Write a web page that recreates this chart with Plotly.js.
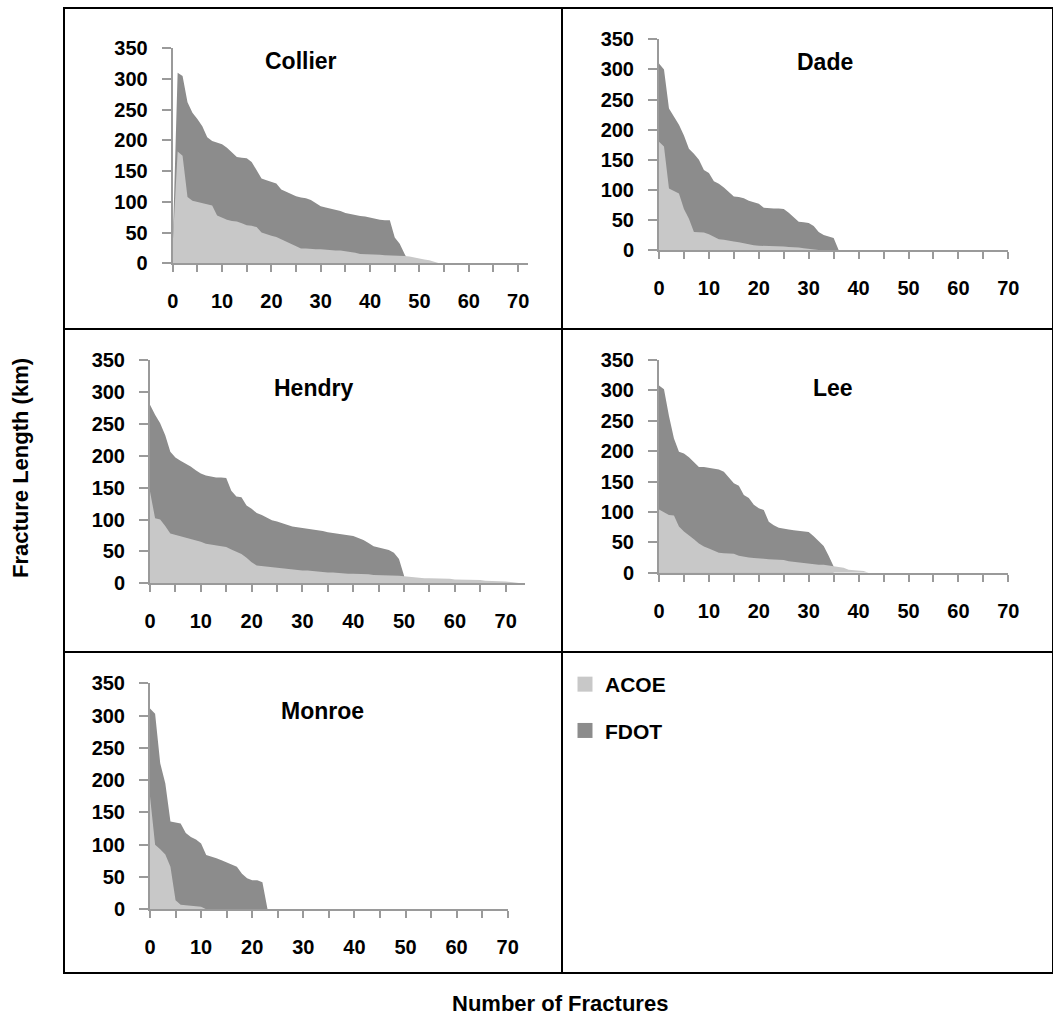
<!DOCTYPE html>
<html><head><meta charset="utf-8">
<script src="https://cdn.plot.ly/plotly-3.0.1.min.js"></script>
<style>html,body{margin:0;padding:0;background:#fff}#chart{width:1053px;height:1017px}</style>
</head><body><div id="chart"></div>
<script>
const counties = ["Collier", "Dade", "Hendry", "Lee", "Monroe"];
const seriesNames = ["ACOE", "FDOT"];
const xTickVals = [0, 10, 20, 30, 40, 50, 60, 70];
const yTickVals = [0, 50, 100, 150, 200, 250, 300, 350];

const collierFDOT = [30,310,305,262,245,235,223,205,199,196,194,188,180,173,172,171,165,152,138,135,133,130,120,116,112,109,107,106,103,98,93,91,89,88,85,82,80,78,77,76,74,72,71,70,70,42,32,15,0];
const collierACOE = [30,182,175,108,102,100,98,96,94,78,74,71,69,68,65,62,61,59,50,47,45,43,39,35,31,27,24,24,23,23,23,22,22,21,21,20,19,17,15,15,14,14,14,13,13,13,12,12,11,9,7,6,5,3,0];

const dadeFDOT = [310,300,235,222,208,190,168,160,150,133,128,114,110,104,96,89,88,86,82,80,77,70,69,69,69,68,62,54,47,46,45,40,30,25,23,20,0];
const dadeACOE = [180,172,102,98,94,68,52,30,30,29,26,22,18,17,15,14,13,11,10,8,7,7,7,6,6,6,5,5,4,3,2,1,0];

const hendryFDOT = [280,264,251,232,206,197,192,188,183,177,172,169,167,166,166,165,145,136,135,122,117,110,107,103,99,97,94,92,89,88,87,86,85,84,82,80,79,77,76,75,74,71,68,63,58,56,54,52,48,38,12];
const hendryACOE = [144,102,100,90,78,76,74,72,70,67,65,62,61,60,59,57,53,50,46,40,33,28,27,26,25,24,23,22,21,21,20,20,19,19,18,17,17,16,16,15,15,15,14,14,13,13,13,12,12,12,11,10,9,9,8,8,8,7,7,7,6,6,6,5,5,5,4,4,4,3,3,2,1,0];

const leeFDOT = [308,302,258,221,199,196,190,182,174,174,173,172,170,166,156,147,143,128,123,112,106,103,84,78,74,72,71,70,69,68,67,60,52,44,28,10];
const leeACOE = [104,100,95,94,76,68,62,55,48,43,40,36,33,32,31,31,28,26,25,24,24,23,22,22,21,21,19,18,16,15,15,14,13,13,12,11,9,8,5,4,3,3,0];

const monroeFDOT = [311,303,226,195,136,135,133,118,112,108,102,84,82,79,76,73,70,66,55,48,45,45,42,0];
const monroeACOE = [175,100,93,85,66,14,7,6,5,5,4,0];

const fdotByCounty = [collierFDOT, dadeFDOT, hendryFDOT, leeFDOT, monroeFDOT];
const acoeByCounty = [collierACOE, dadeACOE, hendryACOE, leeACOE, monroeACOE];

const COL_ACOE = '#c8c8c8';
const COL_FDOT = '#8c8c8c';
const AX = '#9a9a9a';
const FONT = 'Liberation Sans, Arial, sans-serif';
const W = 1053, H = 1017;

// panel pixel boxes: [x0, x1, yTop, yBottom, xMax]
const panels = [
  [172.7, 528.0, 48.3, 263.3, 72],
  [659.0, 1008.3, 39.3, 250.0, 70],
  [150.0, 525.0, 360.0, 583.3, 73.8],
  [659.0, 1008.3, 360.0, 572.7, 70],
  [150.0, 507.7, 683.3, 909.3, 70]
];
const titlePos = [[301, 61], [825, 62], [313, 388], [833, 388], [322, 711]];

const idx = arr => arr.map((_, i) => i);

const traces = [];
const layout = {
  width: W, height: H,
  margin: {l: 0, r: 0, t: 0, b: 0},
  paper_bgcolor: '#fff', plot_bgcolor: 'rgba(0,0,0,0)',
  font: {family: FONT, color: '#000', size: 20, weight: 'bold'},
  showlegend: true,
  legend: {x: 565 / W, y: 1 - 664 / H, xanchor: 'left', yanchor: 'top',
           font: {family: FONT, size: 21, color: '#000', weight: 'bold'}, bgcolor: 'rgba(0,0,0,0)',
           tracegroupgap: 16, itemwidth: 30, traceorder: 'grouped'},
  annotations: [], shapes: []
};

counties.forEach((c, k) => {
  const s = k === 0 ? '' : String(k + 1);
  const xa = 'x' + s, ya = 'y' + s;
  traces.push({
    type: 'scatter', x: idx(fdotByCounty[k]), y: fdotByCounty[k], xaxis: xa, yaxis: ya,
    mode: 'lines', line: {width: 0, color: COL_FDOT}, fill: 'tozeroy', fillcolor: COL_FDOT,
    name: seriesNames[1], legendgroup: 'FDOT', showlegend: false, hoverinfo: 'skip'
  });
  traces.push({
    type: 'scatter', x: idx(acoeByCounty[k]), y: acoeByCounty[k], xaxis: xa, yaxis: ya,
    mode: 'lines', line: {width: 0, color: COL_ACOE}, fill: 'tozeroy', fillcolor: COL_ACOE,
    name: seriesNames[0], legendgroup: 'ACOE', showlegend: false, hoverinfo: 'skip'
  });
  const p = panels[k];
  layout['xaxis' + s] = {
    domain: [p[0] / W, p[1] / W], anchor: ya, range: [0, p[4]],
    tickvals: xTickVals, ticktext: xTickVals.map(String),
    ticks: 'outside', ticklen: 7, tickwidth: 2, tickcolor: AX,
    minor: {dtick: 5, tick0: 0, ticks: 'outside', ticklen: 7, tickwidth: 2, tickcolor: AX},
    showline: true, linecolor: AX, linewidth: 2, showgrid: false, zeroline: false,
    tickfont: {family: FONT, size: 20, color: '#000', weight: 'bold'}, ticklabelstandoff: 12, fixedrange: true
  };
  layout['yaxis' + s] = {
    domain: [1 - p[3] / H, 1 - p[2] / H], anchor: xa, range: [0, 350],
    tickvals: yTickVals, ticktext: yTickVals.map(String),
    ticks: 'outside', ticklen: 9, tickwidth: 2, tickcolor: AX,
    showline: true, linecolor: AX, linewidth: 2, showgrid: false, zeroline: false,
    tickfont: {family: FONT, size: 20, color: '#000', weight: 'bold'}, ticklabelstandoff: 10, fixedrange: true
  };
  layout.annotations.push({
    text: c, xref: 'paper', yref: 'paper', x: titlePos[k][0] / W, y: 1 - titlePos[k][1] / H,
    xanchor: 'center', yanchor: 'middle', showarrow: false,
    font: {family: FONT, size: 23, color: '#000', weight: 'bold'}
  });
});

// legend entries (square swatches, as in the original legend)
traces.push({type: 'scatter', x: [null], y: [null], mode: 'markers', name: seriesNames[0],
  marker: {symbol: 'square', size: 15, color: COL_ACOE}, legendgroup: 'ACOE', showlegend: true, hoverinfo: 'skip'});
traces.push({type: 'scatter', x: [null], y: [null], mode: 'markers', name: seriesNames[1],
  marker: {symbol: 'square', size: 15, color: COL_FDOT}, legendgroup: 'FDOT', showlegend: true, hoverinfo: 'skip'});

layout.annotations.push({
  text: 'Fracture Length (km)', xref: 'paper', yref: 'paper', x: 20 / W, y: 1 - 468 / H,
  textangle: -90, xanchor: 'center', yanchor: 'middle', showarrow: false,
  font: {family: FONT, size: 22, color: '#000', weight: 'bold'}
});
layout.annotations.push({
  text: 'Number of Fractures', xref: 'paper', yref: 'paper', x: 560 / W, y: 1 - 1003 / H,
  xanchor: 'center', yanchor: 'middle', showarrow: false,
  font: {family: FONT, size: 22, color: '#000', weight: 'bold'}
});

// panel frame
const frame = {type: 'line', xref: 'paper', yref: 'paper', line: {color: '#000', width: 2}};
const px = v => v / W, py = v => 1 - v / H;
layout.shapes.push(Object.assign({}, frame, {type: 'rect', x0: px(64), x1: px(1053), y0: py(8), y1: py(973)}));
layout.shapes.push(Object.assign({}, frame, {x0: px(562), x1: px(562), y0: py(8), y1: py(973)}));
layout.shapes.push(Object.assign({}, frame, {x0: px(64), x1: px(1053), y0: py(329), y1: py(329)}));
layout.shapes.push(Object.assign({}, frame, {x0: px(64), x1: px(1053), y0: py(652), y1: py(652)}));

Plotly.newPlot('chart', traces, layout, {displayModeBar: false, staticPlot: true});
</script>
</body></html>
